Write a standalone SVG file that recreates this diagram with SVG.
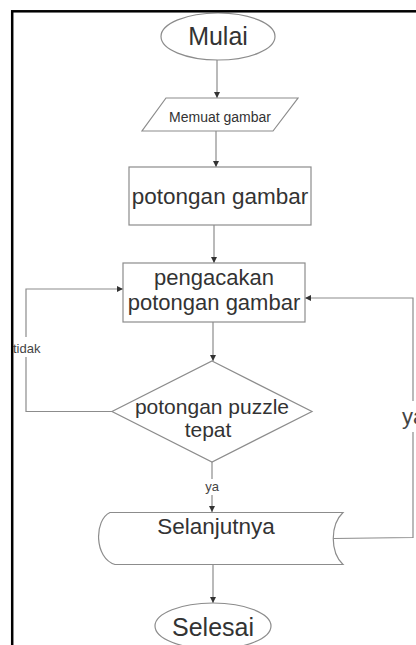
<svg xmlns="http://www.w3.org/2000/svg" width="416" height="645" viewBox="0 0 416 645">
<style>
.s{fill:#fff;stroke:#8c8c8c;stroke-width:1.2}
.c{fill:none;stroke:#8c8c8c;stroke-width:1.2}
.t{font-family:"Liberation Sans",Arial,sans-serif;fill:#333;text-anchor:middle}
.l{font-family:"Liberation Sans",Arial,sans-serif;fill:#444}
</style>
<defs>
<marker id="ah" viewBox="0 0 10 10" refX="10" refY="5" markerWidth="6" markerHeight="6" orient="auto" markerUnits="userSpaceOnUse">
<path d="M0,0 L10,5 L0,10 Z" fill="#333"/>
</marker>
</defs>
<rect width="416" height="645" fill="#fff"/>
<g id="connectors">
<line class="c" x1="217" y1="60" x2="217" y2="98" marker-end="url(#ah)"/>
<line class="c" x1="216" y1="131" x2="216" y2="167" marker-end="url(#ah)"/>
<line class="c" x1="214" y1="225" x2="214" y2="263" marker-end="url(#ah)"/>
<line class="c" x1="213" y1="322" x2="213" y2="361" marker-end="url(#ah)"/>
<line class="c" x1="212" y1="462" x2="212" y2="512" marker-end="url(#ah)"/>
<polyline class="c" points="112,411.5 26,411.5 26,289 123,289" marker-end="url(#ah)"/>
<polyline class="c" points="333,538.5 413,537.5 413,298 305,298" marker-end="url(#ah)"/>
<line class="c" x1="213" y1="565" x2="213" y2="603" marker-end="url(#ah)"/>
<rect x="14" y="337" width="28" height="20" fill="#fff"/>
<text class="l" x="13" y="353" font-size="13">tidak</text>
<rect x="401" y="401" width="15" height="31" fill="#fff"/>
<text class="l" x="402" y="424" font-size="22">ya</text>
<rect x="204" y="479" width="16" height="16" fill="#fff"/>
<text class="l" x="212" y="491" font-size="13" text-anchor="middle">ya</text>
</g>
<g id="mulai">
<ellipse class="s" cx="218" cy="36.5" rx="57" ry="23.5"/>
<text class="t" x="218" y="45" font-size="25">Mulai</text>
</g>
<g id="memuat">
<polygon class="s" points="166,98 298,98 273,131 142,131"/>
<text class="t" x="220" y="121.5" font-size="14">Memuat gambar</text>
</g>
<g id="potongan">
<rect class="s" x="129" y="167" width="182" height="58"/>
<text class="t" x="220" y="204" font-size="22.5">potongan gambar</text>
</g>
<g id="pengacakan">
<rect class="s" x="123" y="263" width="182" height="59"/>
<text class="t" x="214" y="284.5" font-size="22">pengacakan</text>
<text class="t" x="214" y="310" font-size="22">potongan gambar</text>
</g>
<g id="keputusan">
<polygon class="s" points="212,361 312,411.5 212,462 112,411.5"/>
<text class="t" x="212" y="414" font-size="21">potongan puzzle</text>
<text class="t" x="208" y="437" font-size="21">tepat</text>
</g>
<g id="selanjutnya">
<path class="s" d="M110,512.5 L343,512.5 C330,525 330,552 343,564.5 L115,564.5 C94,558 94,520 110,512.5 Z"/>
<text class="t" x="216" y="533.5" font-size="22.5">Selanjutnya</text>
</g>
<g id="selesai">
<ellipse class="s" cx="213" cy="626" rx="58" ry="23"/>
<text class="t" x="213" y="636" font-size="25">Selesai</text>
</g>
<rect x="12.2" y="11.3" width="420" height="650" fill="none" stroke="#000" stroke-width="2.5"/>
</svg>
